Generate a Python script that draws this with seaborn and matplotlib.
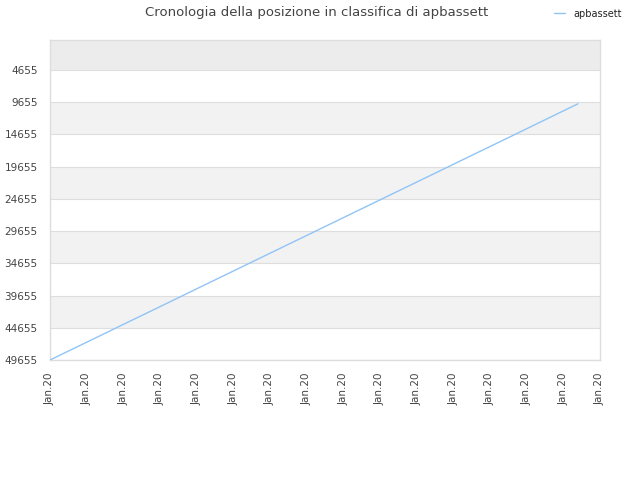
import numpy as np
import pandas as pd
import matplotlib
matplotlib.use('Agg')
import matplotlib.pyplot as plt
import seaborn as sns

# dati (posizione in classifica nel tempo)
giorni = [0, 1, 2, 3, 4, 5, 6, 7, 8, 9, 10, 11, 12, 13, 14, 14.4]
posizione = [49655, 46900, 44130, 41380, 38610, 35850, 33090, 30330,
             27570, 24810, 22050, 19290, 16530, 13770, 11000, 9900]
etichette_x = ['Jan.20'] * 16
tick_y = [4655, 9655, 14655, 19655, 24655, 29655, 34655, 39655, 44655, 49655]

df = pd.DataFrame({'giorno': giorni, 'posizione': posizione, 'utente': 'apbassett'})

sns.set_style('white')
fig = plt.figure(figsize=(6.4, 4.8), dpi=100)
ax = fig.add_axes([50/640, 120/480, 550/640, 320/480])

# bande alternate
ax.axhspan(0, tick_y[0], color='#ececec', zorder=0, lw=0)
for i in range(1, len(tick_y) - 1, 2):
    ax.axhspan(tick_y[i], tick_y[i + 1], color='#f2f2f2', zorder=0, lw=0)
for t in tick_y:
    ax.axhline(t, color='#dedede', lw=0.8, zorder=1)

sns.lineplot(data=df, x='giorno', y='posizione', hue='utente',
             palette=['#90c4f6'], lw=1, ax=ax, zorder=3)

ax.set_xlim(0, 15)
ax.set_ylim(49655, 0)
ax.set_xticks(range(16))
ax.set_xticklabels(etichette_x, rotation=90, fontsize=7.5, color='#444444')
ax.set_yticks(tick_y)
ax.set_yticklabels([str(t) for t in tick_y], fontsize=7.5, color='#444444')
ax.tick_params(axis='x', length=0, pad=9)
ax.tick_params(axis='y', length=0, pad=9)
ax.set_xlabel('')
ax.set_ylabel('')
for s in ax.spines.values():
    s.set_color('#dddddd')
    s.set_linewidth(1)

fig.text(0.495, 0.988, 'Cronologia della posizione in classifica di apbassett',
         ha='center', va='top', fontsize=9.5, color='#444444')

handles = ax.get_legend_handles_labels()[0]
ax.legend_.remove()
leg = fig.legend(handles=handles, labels=['apbassett'], loc='upper right',
                 bbox_to_anchor=(0.985, 1.0), frameon=False, fontsize=7,
                 handlelength=1.2, handletextpad=0.8)
for t in leg.get_texts():
    t.set_color('#222222')

plt.savefig('out.png', dpi=100)
